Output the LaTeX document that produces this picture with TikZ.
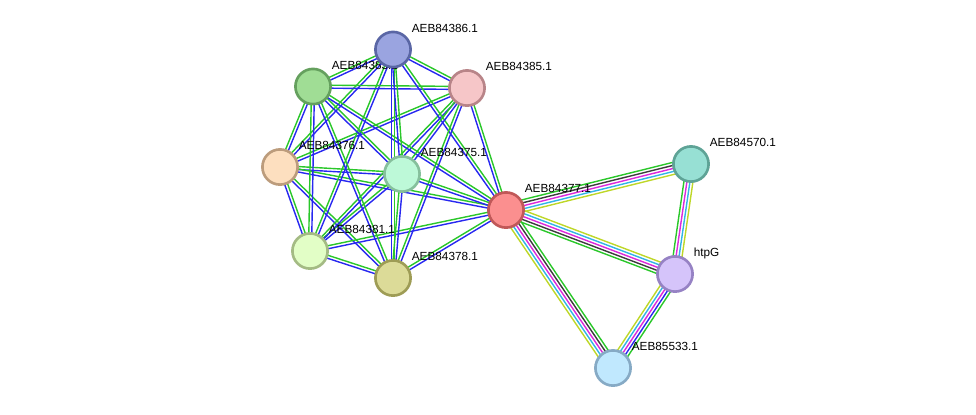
\documentclass[tikz,border=0pt]{standalone}
\usepackage{fontspec}
\setmainfont{Liberation Sans}
\usetikzlibrary{calc, backgrounds}

\definecolor{evgreen}{RGB}{42,199,42}
\definecolor{evblue}{RGB}{40,40,240}
\definecolor{evblack}{RGB}{60,60,60}
\definecolor{evmagenta}{RGB}{220,40,220}
\definecolor{evcyan}{RGB}{50,180,230}
\definecolor{evyellow}{RGB}{190,215,40}

\tikzset{
  prot/.style={circle, line width=1.5pt, minimum size=0.704cm, inner sep=0pt},
  lbl/.style={anchor=base west, inner sep=0pt, font=\fontsize{6.7}{8}\selectfont},
  ev/.style={line width=0.8pt},
}

% parallel evidence lines between two nodes, colour/offset(pt) pairs
\newcommand{\evlink}[3]{%
  \foreach \c/\o in {#3}{%
    \draw[ev, \c] ($(#1.center)!\o pt!90:(#2.center)$) -- ($(#2.center)!\o pt!-90:(#1.center)$);}}
\newcommand{\pairlink}[2]{\evlink{#1}{#2}{evgreen/0.85, evblue/-0.85}}

\begin{document}
\begin{tikzpicture}[x=0.02cm, y=-0.02cm]
  \useasboundingbox (0,0) rectangle (976,414);

  % 1. node centres
  \coordinate (c386) at (393,49.5);
  \coordinate (c385) at (467,88);
  \coordinate (c383) at (313,86.5);
  \coordinate (c376) at (280,167);
  \coordinate (c375) at (402,174);
  \coordinate (c377) at (506,210);
  \coordinate (c381) at (310,251);
  \coordinate (c378) at (393,278);
  \coordinate (c570) at (691,164);
  \coordinate (chtpG) at (675,274);
  \coordinate (c533) at (613,368);

  % 2. labels, under the nodes
  \foreach \p/\t in {383/AEB84383.1, 386/AEB84386.1, 385/AEB84385.1, 376/AEB84376.1,
      375/AEB84375.1, 377/AEB84377.1, 381/AEB84381.1, 378/AEB84378.1,
      570/AEB84570.1, htpG/htpG, 533/AEB85533.1}
    \node[lbl] (l\p) at ($(c\p)+(18.5,-17.5)$) {\t};

  % 3. nodes
  \node[prot, fill={rgb,255:red,160;green,221;blue,149}, draw={rgb,255:red,101;green,160;blue,94}] (n383) at (c383) {};
  \node[prot, fill={rgb,255:red,154;green,164;blue,224}, draw={rgb,255:red,90;green,102;blue,165}] (n386) at (c386) {};
  \node[prot, fill={rgb,255:red,246;green,198;blue,200}, draw={rgb,255:red,184;green,132;blue,136}] (n385) at (c385) {};
  \node[prot, fill={rgb,255:red,253;green,223;blue,191}, draw={rgb,255:red,188;green,156;blue,124}] (n376) at (c376) {};
  \node[prot, fill={rgb,255:red,189;green,249;blue,216}, draw={rgb,255:red,134;green,192;blue,156}] (n375) at (c375) {};
  \node[prot, fill={rgb,255:red,251;green,143;blue,143}, draw={rgb,255:red,192;green,88;blue,88}] (n377) at (c377) {};
  \node[prot, fill={rgb,255:red,226;green,254;blue,198}, draw={rgb,255:red,164;green,187;blue,132}] (n381) at (c381) {};
  \node[prot, fill={rgb,255:red,220;green,219;blue,152}, draw={rgb,255:red,158;green,156;blue,85}] (n378) at (c378) {};
  \node[prot, fill={rgb,255:red,151;green,224;blue,212}, draw={rgb,255:red,94;green,163;blue,150}] (n570) at (c570) {};
  \node[prot, fill={rgb,255:red,213;green,196;blue,250}, draw={rgb,255:red,150;green,130;blue,196}] (nhtpG) at (chtpG) {};
  \node[prot, fill={rgb,255:red,192;green,232;blue,254}, draw={rgb,255:red,134;green,170;blue,197}] (n533) at (c533) {};

  % 4. edges
  \begin{scope}[on background layer]
    \foreach \a/\b in {n376/n381, n376/n383, n376/n386, n376/n378, n376/n375, n376/n385, n376/n377,
        n381/n383, n381/n386, n381/n378, n381/n375, n381/n385, n381/n377,
        n383/n386, n383/n378, n383/n375, n383/n385, n383/n377,
        n386/n378, n386/n375, n386/n385, n386/n377,
        n378/n375, n378/n385, n378/n377,
        n375/n385, n375/n377, n385/n377}
      {\pairlink{\a}{\b}}
    \evlink{n377}{n570}{evgreen/3.4, evblack/1.7, evmagenta/0, evcyan/-1.7, evyellow/-3.4}
    \evlink{nhtpG}{n377}{evgreen/3.4, evblack/1.7, evmagenta/0, evcyan/-1.7, evyellow/-3.4}
    \evlink{n377}{n533}{evgreen/3.4, evblack/1.7, evmagenta/0, evcyan/-1.7, evyellow/-3.4}
    \evlink{nhtpG}{n570}{evgreen/2.55, evmagenta/0.85, evcyan/-0.85, evyellow/-2.55}
    \evlink{nhtpG}{n533}{evgreen/3.4, evblue/1.7, evmagenta/0, evcyan/-1.7, evyellow/-3.4}
  \end{scope}
\end{tikzpicture}
\end{document}
